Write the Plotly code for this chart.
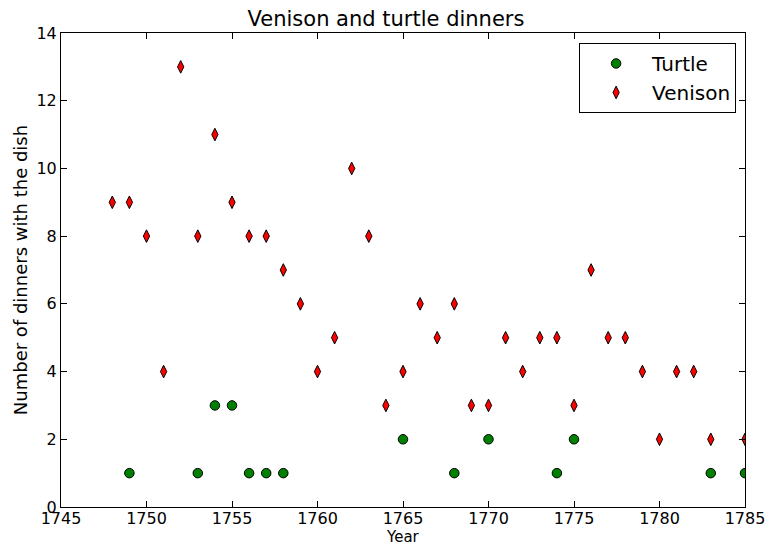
import plotly.graph_objects as go

# Dinner counts per year
venison_years = [1748, 1749, 1750, 1751, 1752, 1753, 1754, 1755, 1756, 1757,
                 1758, 1759, 1760, 1761, 1762, 1763, 1764, 1765, 1766, 1767,
                 1768, 1769, 1770, 1771, 1772, 1773, 1774, 1775, 1776, 1777,
                 1778, 1779, 1780, 1781, 1782, 1783, 1785]
venison_counts = [9, 9, 8, 4, 13, 8, 11, 9, 8, 8,
                  7, 6, 4, 5, 10, 8, 3, 4, 6, 5,
                  6, 3, 3, 5, 4, 5, 5, 3, 7, 5,
                  5, 4, 2, 4, 4, 2, 2]

turtle_years = [1749, 1753, 1754, 1755, 1756, 1757, 1758, 1765, 1768, 1770,
                1774, 1775, 1783, 1785]
turtle_counts = [1, 1, 3, 3, 1, 1, 1, 2, 1, 2, 1, 2, 1, 1]

x_ticks = list(range(1745, 1786, 5))
y_ticks = list(range(0, 15, 2))

font = "DejaVu Sans"

fig = go.Figure()
fig.add_trace(go.Scatter(
    x=turtle_years, y=turtle_counts, mode="markers", name="Turtle",
    marker=dict(symbol="circle", size=9.5, color="#008000",
                line=dict(color="black", width=1)),
))
fig.add_trace(go.Scatter(
    x=venison_years, y=venison_counts, mode="markers", name="Venison",
    marker=dict(symbol="diamond-tall", size=9, color="#ff0000",
                line=dict(color="black", width=1)),
))

axis_common = dict(
    showgrid=False, zeroline=False, showline=True, linecolor="black",
    linewidth=1, mirror="ticks", ticks="inside", ticklen=6, tickcolor="black",
    tickfont=dict(family=font, size=16, color="black"),
    automargin=False,
)

fig.update_layout(
    width=772, height=546,
    margin=dict(l=61, r=27, t=33, b=39),
    paper_bgcolor="white", plot_bgcolor="white",
    title=dict(text="Venison and turtle dinners", x=0.5, xanchor="center",
               y=1 - 19 / 546, yanchor="middle",
               font=dict(family=font, size=21, color="black")),
    xaxis=dict(range=[1745, 1785], tickvals=x_ticks, ticklabelstandoff=-3,
               **axis_common),
    yaxis=dict(range=[0, 14], tickvals=y_ticks,
               title=dict(text="Number of dinners with the dish", standoff=4,
                          font=dict(family=font, size=18, color="black")),
               **axis_common),
    legend=dict(x=0.987, y=0.979, xanchor="right", yanchor="top",
                bgcolor="white", bordercolor="black", borderwidth=1,
                font=dict(family=font, size=20, color="black"),
                itemwidth=62, tracegroupgap=0),
    showlegend=True,
)

# x-axis label placed just under the tick labels
fig.add_annotation(text="Year", xref="paper", yref="paper", x=0.5, y=-30 / 474,
                   xanchor="center", yanchor="middle", showarrow=False,
                   font=dict(family=font, size=15, color="black"))

fig.write_html("out.html")
